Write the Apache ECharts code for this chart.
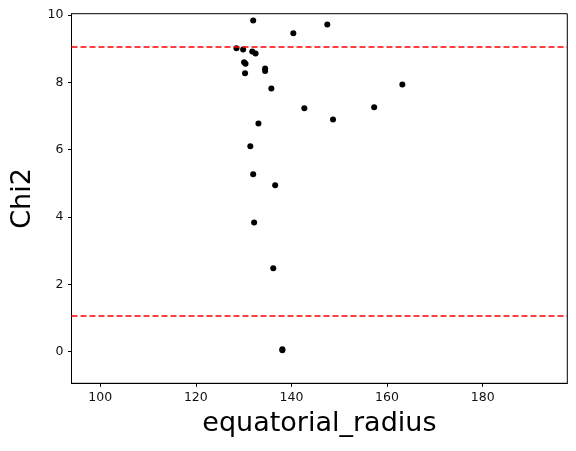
<!DOCTYPE html>
<html>
<head>
<meta charset="utf-8">
<script src="https://cdn.jsdelivr.net/npm/echarts@6/dist/echarts.min.js"></script>
<style>html,body{margin:0;padding:0;background:#fff;}#c{width:576px;height:451px;}</style>
</head>
<body>
<div id="c"></div>
<script>
const radius = [132.0, 147.5, 140.4, 128.5, 129.9, 131.8, 132.5, 130.1, 130.4, 130.3, 134.5, 134.5, 135.8, 163.2, 142.7, 157.3, 148.7, 133.1, 131.4, 132.0, 136.6, 132.2, 136.2, 138.1, 138.1];
const chi2   = [9.84, 9.72, 9.46, 9.01, 8.98, 8.92, 8.86, 8.60, 8.55, 8.27, 8.41, 8.34, 7.82, 7.94, 7.23, 7.26, 6.90, 6.78, 6.10, 5.27, 4.94, 3.84, 2.48, 0.07, 0.04];
const thresholds = [9.06, 1.07];
const xTicks = [100, 120, 140, 160, 180];
const yTicks = [0, 2, 4, 6, 8, 10];

const points = radius.map((r, i) => [r, chi2[i]]);
const font = 'DejaVu Sans';
const chart = echarts.init(document.getElementById('c'), null, {renderer: 'canvas'});
chart.setOption({
  animation: false,
  backgroundColor: '#fff',
  grid: {left: 71.5, right: 8.7, top: 13.7, bottom: 67.7, show: true, borderColor: '#000', borderWidth: 1, containLabel: false},
  xAxis: {
    type: 'value', min: 94.0, max: 197.7,
    name: 'equatorial_radius', nameLocation: 'middle', nameGap: 27,
    nameTextStyle: {fontFamily: font, fontSize: 27, color: '#000'},
    axisLine: {show: true, onZero: false, lineStyle: {color: '#000', width: 1}},
    axisTick: {show: true, length: 3.5, lineStyle: {color: '#000'}, customValues: xTicks},
    axisLabel: {fontFamily: font, fontSize: 12.5, color: '#111', margin: 8, customValues: xTicks, showMinLabel: true, showMaxLabel: true},
    splitLine: {show: false}
  },
  yAxis: {
    type: 'value', min: -0.94, max: 10.04,
    name: 'Chi2', nameLocation: 'middle', nameGap: 34,
    nameTextStyle: {fontFamily: font, fontSize: 27, color: '#000'},
    axisLine: {show: true, onZero: false, lineStyle: {color: '#000', width: 1}},
    axisTick: {show: true, length: 3.5, lineStyle: {color: '#000'}, customValues: yTicks},
    axisLabel: {fontFamily: font, fontSize: 12.5, color: '#111', margin: 8, customValues: yTicks},
    splitLine: {show: false}
  },
  series: [{
    type: 'scatter',
    data: points,
    symbol: 'circle',
    symbolSize: 6,
    itemStyle: {color: '#000', opacity: 1},
    markLine: {
      silent: true,
      symbol: ['none', 'none'],
      label: {show: false},
      lineStyle: {color: '#ff0000', type: [6, 3], width: 1.5, opacity: 1},
      data: thresholds.map(t => ({yAxis: t}))
    }
  }]
});
</script>
</body>
</html>
